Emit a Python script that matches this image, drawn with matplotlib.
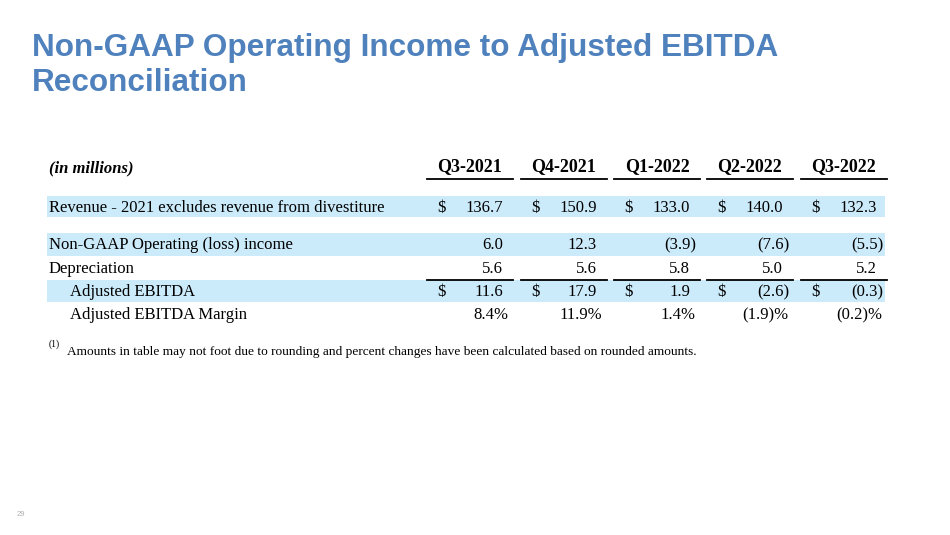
#Imports
import matplotlib.pyplot as plt
from matplotlib.patches import Rectangle

#Data
quarters = ['Q3-2021', 'Q4-2021', 'Q1-2022', 'Q2-2022', 'Q3-2022']
revenue = [136.7, 150.9, 133.0, 140.0, 132.3]
op_income = [6.0, 12.3, -3.9, -7.6, -5.5]
depreciation = [5.6, 5.6, 5.8, 5.0, 5.2]
adj_ebitda = [11.6, 17.9, 1.9, -2.6, -0.3]
ebitda_margin = [8.4, 11.9, 1.4, -1.9, -0.2]

title_lines = ['Non-GAAP Operating Income to Adjusted EBITDA', 'Reconciliation']
footnote = 'Amounts in table may not foot due to rounding and percent changes have been calculated based on rounded amounts.'

#Layout (pixels)
col_start = [427, 521, 614, 707, 801]
col_width = 86
band_color = '#CCEBFA'
serif = 'Liberation Serif'
fs = 12

fig = plt.figure(figsize=(9.5, 5.35), dpi=100)
ax = fig.add_axes([0, 0, 1, 1])
ax.set_xlim(0, 950)
ax.set_ylim(535, 0)
ax.axis('off')

#Title
for i, line in enumerate(title_lines):
    ax.text(32, 56 + i * 35, line, fontsize=22.7, fontweight='bold', color='#4F81BD',
            family='Liberation Sans', va='baseline', ha='left')

#Shaded rows
for top, bottom in [(196, 217), (233, 256), (280, 302)]:
    ax.add_patch(Rectangle((47, top), 885 - 47, bottom - top, color=band_color, lw=0, zorder=0))

#Header
ax.text(49, 168, '(in millions)', fontsize=fs, fontweight='bold', style='italic',
        family=serif, va='center')
for x0, q in zip(col_start, quarters):
    ax.text(x0 + col_width / 2, 167, q, fontsize=13, fontweight='bold', family=serif,
            ha='center', va='center')
    ax.plot([x0, x0 + col_width], [179, 179], color='black', lw=1.3)
    ax.plot([x0, x0 + col_width], [279.5, 279.5], color='black', lw=1.3)


def put_value(x0, y, v, dollar=False, pct=False):
    right = x0 + col_width - 10
    if dollar:
        ax.text(x0 + 10, y, '$', fontsize=fs, family=serif, ha='left', va='center')
    if pct:
        s = f'({abs(v):.1f})%' if v < 0 else f'{v:.1f}%'
        ax.text(right + 5, y, s, fontsize=fs, family=serif, ha='right', va='center')
    elif v < 0:
        ax.text(right + 6, y, f'({abs(v):.1f})', fontsize=fs, family=serif, ha='right', va='center')
    else:
        ax.text(right, y, f'{v:.1f}', fontsize=fs, family=serif, ha='right', va='center')


rows = [
    ('Revenue - 2021 excludes revenue from divestiture', 49, 208, revenue, True, False),
    ('Non-GAAP Operating (loss) income', 49, 245, op_income, False, False),
    ('Depreciation', 49, 269, depreciation, False, False),
    ('Adjusted EBITDA', 70, 292, adj_ebitda, True, False),
    ('Adjusted EBITDA Margin', 70, 315, ebitda_margin, False, True),
]
for label, lx, y, vals, dollar, pct in rows:
    ax.text(lx, y, label, fontsize=fs, family=serif, va='center')
    for x0, v in zip(col_start, vals):
        put_value(x0, y, v, dollar, pct)

#Footnote
ax.text(49, 344, '(1)', fontsize=7, family=serif, va='center')
ax.text(67, 352, footnote, fontsize=9.6, family=serif, va='center')

#Page number
ax.text(17, 514, '29', fontsize=5.5, color='#B0B0B0', family='Liberation Sans', va='center')

plt.savefig('out.png', dpi=100)
plt.close()
